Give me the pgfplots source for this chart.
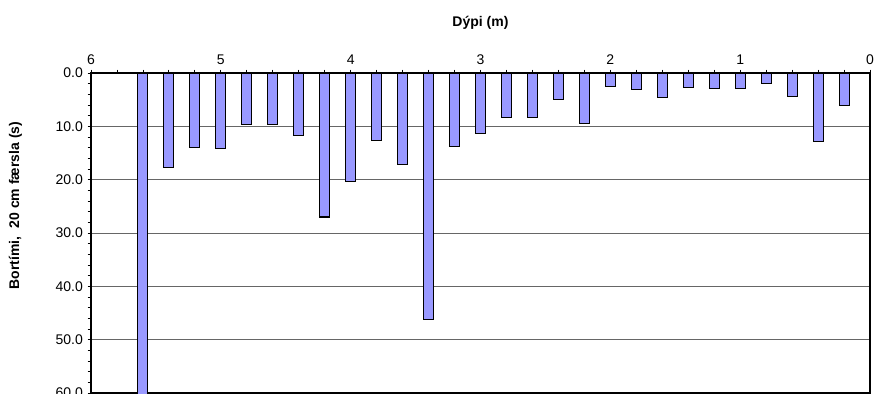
\documentclass[border=0pt]{standalone}
\usepackage{fontspec}
\setmainfont{Liberation Sans}
\usepackage{pgfplots}
\pgfplotsset{compat=1.18}
\definecolor{barblue}{HTML}{9999FF}
\definecolor{gridc}{HTML}{666666}
\begin{document}
\begin{tikzpicture}
\begin{axis}[
  scale only axis,
  width=584.25pt, height=240pt,
  x dir=reverse, y dir=reverse,
  xmin=0, xmax=6, ymin=0, ymax=60,
  xtick={0,1,2,3,4,5,6},
  minor x tick num=4,
  ytick={0,10,20,30,40,50,60},
  minor y tick num=4,
  xtick pos=right, xticklabel pos=right,
  ytick pos=left,
  tick align=outside,
  major tick length=2.6pt, minor tick length=2.6pt,
  tick style={black, line width=0.6pt},
  axis line style={black, line width=0.8pt},
  ymajorgrids,
  major grid style={gridc, line width=0.6pt},
  yticklabel style={/pgf/number format/.cd, fixed, fixed zerofill, precision=1, assume math mode=true},
  xticklabel style={/pgf/number format/assume math mode=true},
  ticklabel style={font=\fontsize{10.5pt}{12pt}\selectfont},
  every axis y label/.style={at={(axis description cs:-0.0969,0.586)}, rotate=90, anchor=center, font=\fontsize{10.5pt}{12pt}\selectfont\bfseries},
  every axis x label/.style={at={(axis description cs:0.5,1)}, anchor=center, yshift=37.5pt, font=\fontsize{10.5pt}{12pt}\selectfont\bfseries},
  xlabel={Dýpi (m)},
  ylabel={Bortími,\ \ 20 cm færsla (s)},
  ybar, bar width=7.5pt,
]
\addplot[fill=barblue, draw=black, line width=0.8pt] coordinates {
(5.6,65) (5.4,17.7) (5.2,14.0) (5.0,14.1) (4.8,9.6) (4.6,9.6) (4.4,11.8)
(4.2,27.0) (4.0,20.3) (3.8,12.7) (3.6,17.1) (3.4,46.2) (3.2,13.7) (3.0,11.3)
(2.8,8.3) (2.6,8.4) (2.4,4.9) (2.2,9.4) (2.0,2.5) (1.8,3.1) (1.6,4.6)
(1.4,2.8) (1.2,2.9) (1.0,2.9) (0.8,1.9) (0.6,4.4) (0.4,12.8) (0.2,6.1)
};
\end{axis}
\pgfresetboundingbox
\path[use as bounding box] ([xshift=-68.25pt,yshift=-0.75pt]current axis.south west) rectangle ([xshift=3.75pt,yshift=54.75pt]current axis.north east);
\end{tikzpicture}
\end{document}
